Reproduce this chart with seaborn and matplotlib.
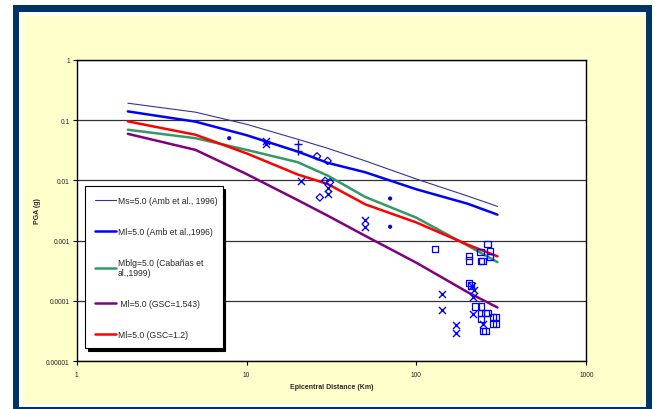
import matplotlib
matplotlib.use('Agg')
import matplotlib.pyplot as plt
from matplotlib.patches import Rectangle
from matplotlib.ticker import FixedLocator, NullLocator
import pandas as pd
import seaborn as sns

# Attenuation curves (PGA in g vs epicentral distance in km)
distance = [2, 5, 10, 20, 30, 50, 100, 200, 300]
pga_ms_amb = [0.19, 0.135, 0.085, 0.048, 0.034, 0.021, 0.0105, 0.0055, 0.0037]
pga_ml_amb = [0.139, 0.094, 0.056, 0.030, 0.0195, 0.0136, 0.0071, 0.0041, 0.0027]
pga_mblg = [0.069, 0.050, 0.032, 0.020, 0.012, 0.0053, 0.0024, 0.00083, 0.00044]
pga_gsc1543 = [0.059, 0.032, 0.0127, 0.0047, 0.0026, 0.0012, 0.00043, 0.00014, 0.000078]
pga_gsc12 = [0.095, 0.057, 0.028, 0.0125, 0.0087, 0.0040, 0.0020, 0.00086, 0.00055]

model_names = ['Ms=5.0 (Amb et al., 1996)', 'Ml=5.0 (Amb et al.,1996)',
               'Mblg=5.0 (Cabañas et\nal.,1999)', ' Ml=5.0 (GSC=1.543)', 'Ml=5.0 (GSC=1.2)']
model_colors = ['#333399', '#0000FF', '#339966', '#800080', '#FF0000']
model_widths = [0.8, 1.8, 1.8, 1.8, 1.8]

# Observed records
dot_dist = [7.9, 70, 70]
dot_pga = [0.050, 0.005, 0.0017]
cross_dist = [13, 13, 21, 30, 30, 50, 50, 142, 142, 170, 170, 213, 215, 218, 215, 246]
cross_pga = [0.045, 0.040, 0.0096, 0.0075, 0.0060, 0.0022, 0.0017, 0.00013, 0.00007,
             0.00004, 0.00003, 0.00018, 0.000115, 0.00015, 0.00006, 0.000042]
plus_dist = [20, 20]
plus_pga = [0.040, 0.031]
diamond_dist = [26, 30, 27, 31, 29]
diamond_pga = [0.025, 0.021, 0.0052, 0.0093, 0.0098]
square_dist = [128, 203, 203, 238, 240, 245, 262, 272, 272, 203, 210, 223, 239, 239,
               255, 262, 241, 282, 282, 293, 293, 246, 255]
square_pga = [0.00073, 0.00056, 0.00047, 0.00064, 0.00046, 0.00046, 0.00088, 0.00068,
              0.00053, 0.00020, 0.00018, 0.000081, 0.000081, 0.000063, 0.000063,
              0.000063, 0.000050, 0.000054, 0.000042, 0.000054, 0.000042, 0.000032,
              0.000032]

x_ticks = [1, 10, 100, 1000]
x_tick_labels = ['1', '10', '100', '1000']
y_ticks = [1, 0.1, 0.01, 0.001, 0.0001, 0.00001]
y_tick_labels = ['1', '0.1', '0.01', '0.001', '0.0001', '0.00001']

curves = pd.DataFrame({
    'distance': distance * 5,
    'pga': pga_ms_amb + pga_ml_amb + pga_mblg + pga_gsc1543 + pga_gsc12,
    'model': [m for m in model_names for _ in distance],
})

sns.set_style('white')
plt.rcParams['font.family'] = ['Liberation Sans', 'DejaVu Sans']

W, H = 655, 410
fig = plt.figure(figsize=(W / 100, H / 100), dpi=100)
fig.patch.set_facecolor('white')

# Frame: navy border, thin white gap, pale yellow panel (behind the axes)
fig.patches.append(Rectangle((12.5 / W, 0), 639 / W, 404 / H, transform=fig.transFigure,
                             facecolor='#003366', edgecolor='none', zorder=-3))
fig.patches.append(Rectangle((19 / W, 2 / H), 627 / W, 395 / H, transform=fig.transFigure,
                             facecolor='white', edgecolor='none', zorder=-2))
fig.patches.append(Rectangle((23 / W, 5 / H), 621.5 / W, 388 / H, transform=fig.transFigure,
                             facecolor='#FFFFCC', edgecolor='none', zorder=-1))

ax = fig.add_axes([76.7 / W, (H - 362.3) / H, 509.6 / W, 301.6 / H])
ax.set_facecolor('white')
ax.set_xscale('log')
ax.set_yscale('log')

sns.lineplot(data=curves, x='distance', y='pga', hue='model', size='model',
             palette=dict(zip(model_names, model_colors)),
             sizes=dict(zip(model_names, model_widths)),
             hue_order=model_names, size_order=model_names,
             sort=False, legend=False, ax=ax)

sns.scatterplot(x=dot_dist, y=dot_pga, marker='o', s=9, color='#0000FF',
                edgecolor='none', ax=ax, zorder=5)
sns.scatterplot(x=cross_dist, y=cross_pga, marker='x', s=26, color='#0000FF',
                linewidth=1.0, ax=ax, zorder=5)
sns.scatterplot(x=plus_dist, y=plus_pga, marker='+', s=30, color='#0000FF',
                linewidth=1.0, ax=ax, zorder=5)
sns.scatterplot(x=diamond_dist, y=diamond_pga, marker='D', s=14, facecolors='none',
                edgecolors='#0000FF', linewidth=0.9, ax=ax, zorder=5)
sns.scatterplot(x=square_dist, y=square_pga, marker='s', s=20, facecolors='none',
                edgecolors='#0000FF', linewidth=0.9, ax=ax, zorder=5)

ax.set_xlim(1, 1000)
ax.set_ylim(0.00001, 1)
ax.xaxis.set_major_locator(FixedLocator(x_ticks))
ax.xaxis.set_minor_locator(NullLocator())
ax.set_xticklabels(x_tick_labels)
ax.yaxis.set_major_locator(FixedLocator(y_ticks))
ax.yaxis.set_minor_locator(NullLocator())
ax.set_yticklabels(y_tick_labels)
ax.tick_params(axis='both', which='major', direction='out', length=3, width=0.8,
               color='black', labelsize=4.8, labelcolor='#222222', pad=2,
               left=True, bottom=True)
ax.tick_params(axis='x', pad=4)

# Horizontal major gridlines only
ax.yaxis.grid(True, color='#333333', linewidth=0.9)
ax.xaxis.grid(False)
for spine in ax.spines.values():
    spine.set_visible(True)
    spine.set_color('black')
    spine.set_linewidth(1.0)

ax.set_xlabel('Epicentral Distance (Km)', fontsize=5, fontweight='bold')
ax.set_ylabel('PGA (g)', fontsize=5, fontweight='bold')
ax.xaxis.set_label_coords(0.5, -0.073)
ax.yaxis.set_label_coords(-0.071, 0.5)

handles = ax.lines[:5]
leg = ax.legend(handles, model_names, loc='upper left',
                bbox_to_anchor=(8.6 / 509.6, 1 - 126.6 / 301.6, 137.4 / 509.6, 0),
                mode='expand', fontsize=6.2, frameon=True, fancybox=False,
                shadow={'color': 'black', 'alpha': 1}, labelspacing=2.55,
                handlelength=2.5, handletextpad=0.15, borderpad=1.1,
                borderaxespad=0)
leg.get_frame().set_edgecolor('black')
leg.get_frame().set_linewidth(0.8)
leg.get_frame().set_facecolor('white')
leg.set_zorder(10)

fig.savefig('out.png', dpi=100, facecolor=fig.get_facecolor())
